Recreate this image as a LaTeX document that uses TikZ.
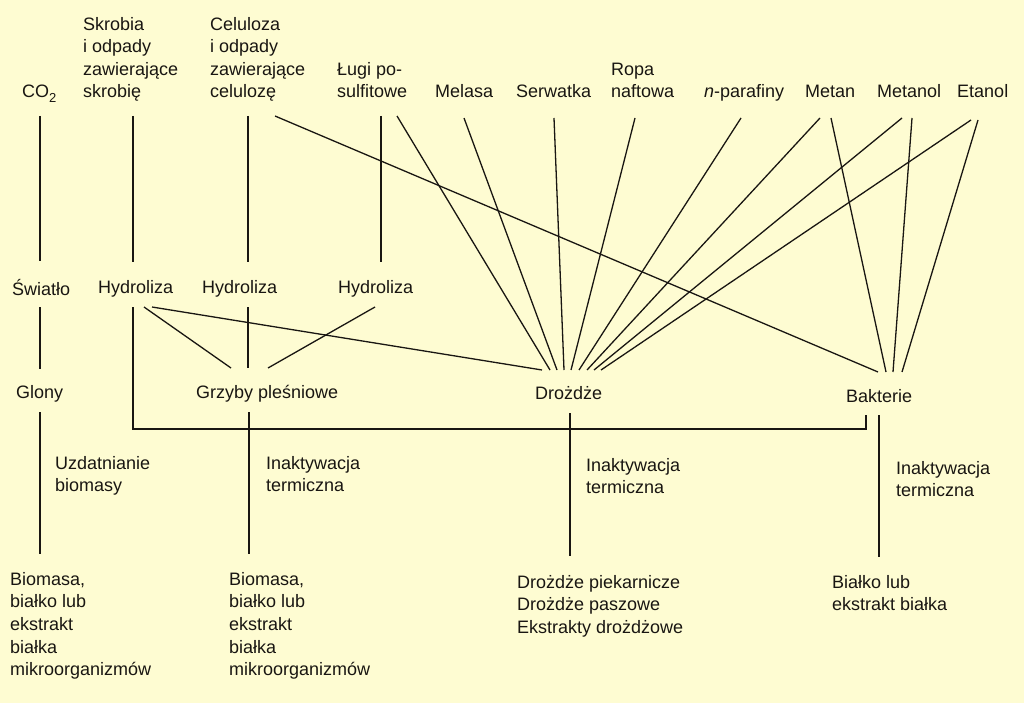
\documentclass[tikz,border=0pt]{standalone}
\usepackage{fontspec}
\setmainfont{Liberation Sans}
\definecolor{bg}{RGB}{254,252,210}
\definecolor{ink}{RGB}{25,22,18}
\newcommand\fst{\rule{0pt}{14pt}}
\begin{document}
\begin{tikzpicture}[x=1pt,y=-1pt,
  lbl/.style={anchor=north west,inner sep=0pt,align=left,
    font=\fontsize{18}{22.6}\selectfont,text=ink},
  conn/.style={draw=ink,line width=1.3pt}]
\fill[bg] (0,0) rectangle (1024,703);
\useasboundingbox (0,0) rectangle (1024,703);

% ---- top row: raw materials
\node[lbl] (co2) at (22,83) {\fst CO\raisebox{-5pt}{\fontsize{13}{13}\selectfont 2}};
\node[lbl] (skrobia) at (83,16) {\fst Skrobia\\i odpady\\zawierające\\skrobię};
\node[lbl] (celuloza) at (210,16) {\fst Celuloza\\i odpady\\zawierające\\celulozę};
\node[lbl] (lugi) at (337,61) {\fst Ługi po-\\sulfitowe};
\node[lbl] (melasa) at (435,83.5) {\fst Melasa};
\node[lbl] (serwatka) at (516,83.5) {\fst Serwatka};
\node[lbl] (ropa) at (611,61) {\fst Ropa\\naftowa};
\node[lbl] (npar) at (704,83.5) {\fst\textit{n}-parafiny};
\node[lbl] (metan) at (805,83.5) {\fst Metan};
\node[lbl] (metanol) at (877,83.5) {\fst Metanol};
\node[lbl] (etanol) at (957,83.5) {\fst Etanol};

% ---- second row
\node[lbl] (swiatlo) at (12,279) {\fst Światło};
\node[lbl] (hyd1) at (98,279) {\fst Hydroliza};
\node[lbl] (hyd2) at (202,279) {\fst Hydroliza};
\node[lbl] (hyd3) at (338,279) {\fst Hydroliza};

% ---- organisms
\node[lbl] (glony) at (16,384) {\fst Glony};
\node[lbl] (grzyby) at (196,384) {\fst Grzyby pleśniowe};
\node[lbl] (drozdze) at (535,385) {\fst Drożdże};
\node[lbl] (bakterie) at (846,388) {\fst Bakterie};

% ---- processes
\node[lbl] (uzd) at (55,455) {\fst Uzdatnianie\\biomasy};
\node[lbl] (ina1) at (266,455) {\fst Inaktywacja\\termiczna};
\node[lbl] (ina2) at (586,457) {\fst Inaktywacja\\termiczna};
\node[lbl] (ina3) at (896,460) {\fst Inaktywacja\\termiczna};

% ---- products
\node[lbl] (prod1) at (10,571) {\fst Biomasa,\\białko lub\\ekstrakt\\białka\\mikroorganizmów};
\node[lbl] (prod2) at (229,571) {\fst Biomasa,\\białko lub\\ekstrakt\\białka\\mikroorganizmów};
\node[lbl] (prod3) at (517,574) {\fst Drożdże piekarnicze\\Drożdże paszowe\\Ekstrakty drożdżowe};
\node[lbl] (prod4) at (832,574) {\fst Białko lub\\ekstrakt białka};

% ---- connector end points
\coordinate (co2o) at (40,116);      \coordinate (swi) at (40,261);
\coordinate (swo) at (40,307);       \coordinate (glI) at (40,369);
\coordinate (glO) at (40,412);       \coordinate (p1I) at (40,554);
\coordinate (skO) at (133,116);      \coordinate (h1I) at (133,262);
\coordinate (ceO) at (248,116);      \coordinate (h2I) at (248,262);
\coordinate (ceO2) at (275,116);
\coordinate (luO) at (381,116);      \coordinate (h3I) at (381,262);
\coordinate (luO2) at (397,116);
\coordinate (meO) at (464,118);
\coordinate (seO) at (554,118);
\coordinate (roO) at (635,118);
\coordinate (npO) at (741,118);
\coordinate (mtO1) at (820,118);     \coordinate (mtO2) at (831,118);
\coordinate (moO1) at (902,118);     \coordinate (moO2) at (912,118);
\coordinate (etO1) at (971,120);     \coordinate (etO2) at (978,120);
% yeast inputs
\coordinate (d1) at (542,370); \coordinate (d2) at (550,370);
\coordinate (d3) at (557,370); \coordinate (d4) at (564,370);
\coordinate (d5) at (571,370); \coordinate (d6) at (579,370);
\coordinate (d7) at (587,370); \coordinate (d8) at (594,370);
\coordinate (d9) at (601,370);
% bacteria inputs
\coordinate (k1) at (878,372); \coordinate (k2) at (886,372);
\coordinate (k3) at (893,372); \coordinate (k4) at (902,372);
% hydrolysis outputs
\coordinate (h1o) at (133,307); \coordinate (h1a) at (144,307);
\coordinate (h1b) at (152,307);
\coordinate (h2o) at (248,307); \coordinate (h3o) at (375,307);
\coordinate (g1) at (231,368); \coordinate (g2) at (248,368);
\coordinate (g3) at (268,368);
\coordinate (brL) at (133,429); \coordinate (brR) at (866,429);
\coordinate (kB) at (866,415);
% organism outputs
\coordinate (grO) at (249,412); \coordinate (p2I) at (249,554);
\coordinate (drO) at (570,413); \coordinate (p3I) at (570,556);
\coordinate (baO) at (879,415); \coordinate (p4I) at (879,557);

% ---- connectors
\draw[conn] (co2o) -- (swi);
\draw[conn] (swo) -- (glI);
\draw[conn] (glO) -- (p1I);
\draw[conn] (skO) -- (h1I);
\draw[conn] (ceO) -- (h2I);
\draw[conn] (ceO2) -- (k1);
\draw[conn] (luO) -- (h3I);
\draw[conn] (luO2) -- (d2);
\draw[conn] (meO) -- (d3);
\draw[conn] (seO) -- (d4);
\draw[conn] (roO) -- (d5);
\draw[conn] (npO) -- (d6);
\draw[conn] (mtO1) -- (d7);
\draw[conn] (moO1) -- (d8);
\draw[conn] (etO1) -- (d9);
\draw[conn] (mtO2) -- (k2);
\draw[conn] (moO2) -- (k3);
\draw[conn] (etO2) -- (k4);
\draw[conn] (h1a) -- (g1);
\draw[conn] (h1b) -- (d1);
\draw[conn] (h2o) -- (g2);
\draw[conn] (h3o) -- (g3);
\draw[conn] (h1o) -- (brL) -- (brR) -- (kB);
\draw[conn] (grO) -- (p2I);
\draw[conn] (drO) -- (p3I);
\draw[conn] (baO) -- (p4I);
\end{tikzpicture}
\end{document}
